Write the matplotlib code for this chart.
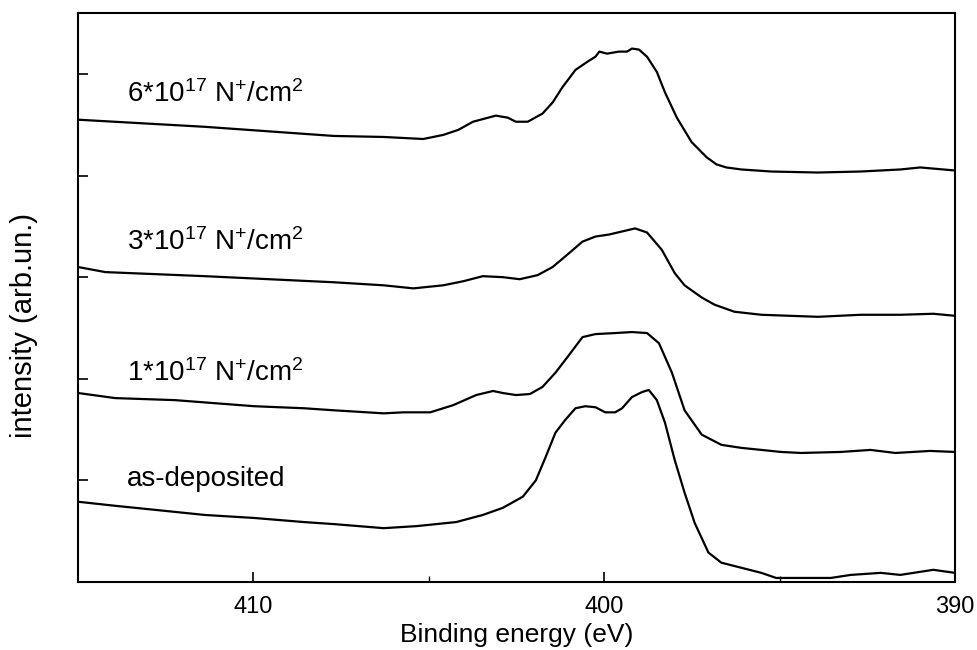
import matplotlib.pyplot as plt

plt.rcParams['font.family'] = ['Liberation Sans', 'DejaVu Sans']
plt.rcParams['mathtext.default'] = 'regular'

# 6*10^17 N+/cm2
e6 = [415.0, 411.39, 407.71, 406.29, 405.16, 404.59, 404.16, 403.74, 403.09, 402.75,
      402.52, 402.18, 401.76, 401.47, 401.19, 400.82, 400.48, 400.25, 400.14, 399.92,
      399.58, 399.35, 399.21, 399.01, 398.78, 398.50, 398.27, 397.93, 397.51, 397.08,
      396.80, 396.52, 396.09, 395.24, 393.91, 392.69, 391.56, 390.99, 390.0]
i6 = [4.55, 4.48, 4.39, 4.38, 4.36, 4.40, 4.45, 4.53, 4.59, 4.57,
      4.53, 4.53, 4.61, 4.72, 4.87, 5.04, 5.12, 5.17, 5.22, 5.20,
      5.22, 5.22, 5.25, 5.24, 5.17, 5.02, 4.82, 4.57, 4.33, 4.18,
      4.11, 4.08, 4.06, 4.04, 4.03, 4.04, 4.06, 4.08, 4.05]

# 3*10^17 N+/cm2
e3 = [415.0, 414.22, 411.39, 407.71, 406.29, 405.44, 404.59, 404.02, 403.46, 402.89,
      402.41, 401.90, 401.47, 400.99, 400.62, 400.25, 399.86, 399.49, 399.12, 398.78,
      398.36, 397.99, 397.71, 397.22, 396.86, 396.29, 395.52, 393.91, 392.69, 391.56,
      390.62, 390.0]
i3 = [3.10, 3.05, 3.01, 2.95, 2.92, 2.89, 2.92, 2.96, 3.01, 3.00,
      2.98, 3.02, 3.10, 3.24, 3.35, 3.40, 3.42, 3.45, 3.48, 3.44,
      3.27, 3.04, 2.92, 2.80, 2.73, 2.66, 2.63, 2.61, 2.63, 2.63,
      2.64, 2.62]

# 1*10^17 N+/cm2
e1 = [415.0, 413.94, 412.24, 409.97, 408.56, 407.71, 406.29, 405.72, 404.96, 404.31,
      403.65, 403.17, 402.89, 402.52, 402.12, 401.76, 401.39, 400.99, 400.62, 400.25,
      399.69, 399.21, 398.78, 398.44, 398.07, 397.71, 397.22, 396.66, 396.09, 395.52,
      394.96, 394.39, 393.26, 392.41, 391.70, 390.71, 390.0]
i1 = [1.86, 1.81, 1.79, 1.73, 1.71, 1.69, 1.66, 1.67, 1.67, 1.74,
      1.84, 1.88, 1.86, 1.84, 1.85, 1.92, 2.06, 2.24, 2.41, 2.44,
      2.45, 2.46, 2.45, 2.35, 2.06, 1.69, 1.45, 1.35, 1.32, 1.30,
      1.28, 1.27, 1.28, 1.30, 1.27, 1.29, 1.28]

# as-deposited
e0 = [415.0, 413.94, 412.80, 411.39, 409.97, 408.56, 407.71, 406.29, 405.35, 404.22,
      403.46, 402.89, 402.32, 401.95, 401.67, 401.39, 401.10, 400.82, 400.54, 400.25,
      399.97, 399.69, 399.49, 399.21, 398.92, 398.73, 398.50, 398.27, 397.99, 397.71,
      397.42, 397.03, 396.66, 396.09, 395.52, 395.10, 394.39, 393.54, 392.97, 392.12,
      391.56, 390.62, 390.0]
i0 = [0.79, 0.75, 0.71, 0.66, 0.63, 0.59, 0.57, 0.53, 0.55, 0.59,
      0.66, 0.73, 0.84, 1.00, 1.23, 1.47, 1.60, 1.71, 1.73, 1.72,
      1.67, 1.67, 1.71, 1.82, 1.87, 1.89, 1.79, 1.57, 1.20, 0.88,
      0.58, 0.29, 0.19, 0.14, 0.09, 0.04, 0.04, 0.04, 0.07, 0.09,
      0.07, 0.12, 0.09]

labels = [r'6*10$^{17}$ N$^{+}$/cm$^{2}$', r'3*10$^{17}$ N$^{+}$/cm$^{2}$',
          r'1*10$^{17}$ N$^{+}$/cm$^{2}$', 'as-deposited']
label_y = [4.72, 3.27, 1.98, 0.94]

fig = plt.figure(figsize=(9.78, 6.5), dpi=100)
ax = fig.add_axes([0.0798, 0.1046, 0.8967, 0.8754])

for e, i in [(e6, i6), (e3, i3), (e1, i1), (e0, i0)]:
    ax.plot(e, i, color='black', lw=1.6)

for lab, y in zip(labels, label_y):
    ax.text(413.6, y, lab, fontsize=20, va='baseline', ha='left')

ax.set_xlim(415, 390)
ax.set_ylim(0, 5.6)
ax.set_xticks([410, 400, 390])
ax.set_xticks([405, 395], minor=True)
ax.set_yticks([1, 2, 3, 4, 5])
ax.set_yticklabels([])
ax.tick_params(direction='in', length=7, width=1.2, labelsize=17, pad=10)
ax.tick_params(which='minor', direction='in', length=4, width=1)
for s in ax.spines.values():
    s.set_linewidth(1.5)

ax.set_xlabel('Binding energy (eV)', fontsize=19, labelpad=4)
ax.set_ylabel('intensity (arb.un.)', fontsize=21)
ax.yaxis.set_label_coords(-0.046, 0.45)

fig.savefig('out.png', dpi=100)
